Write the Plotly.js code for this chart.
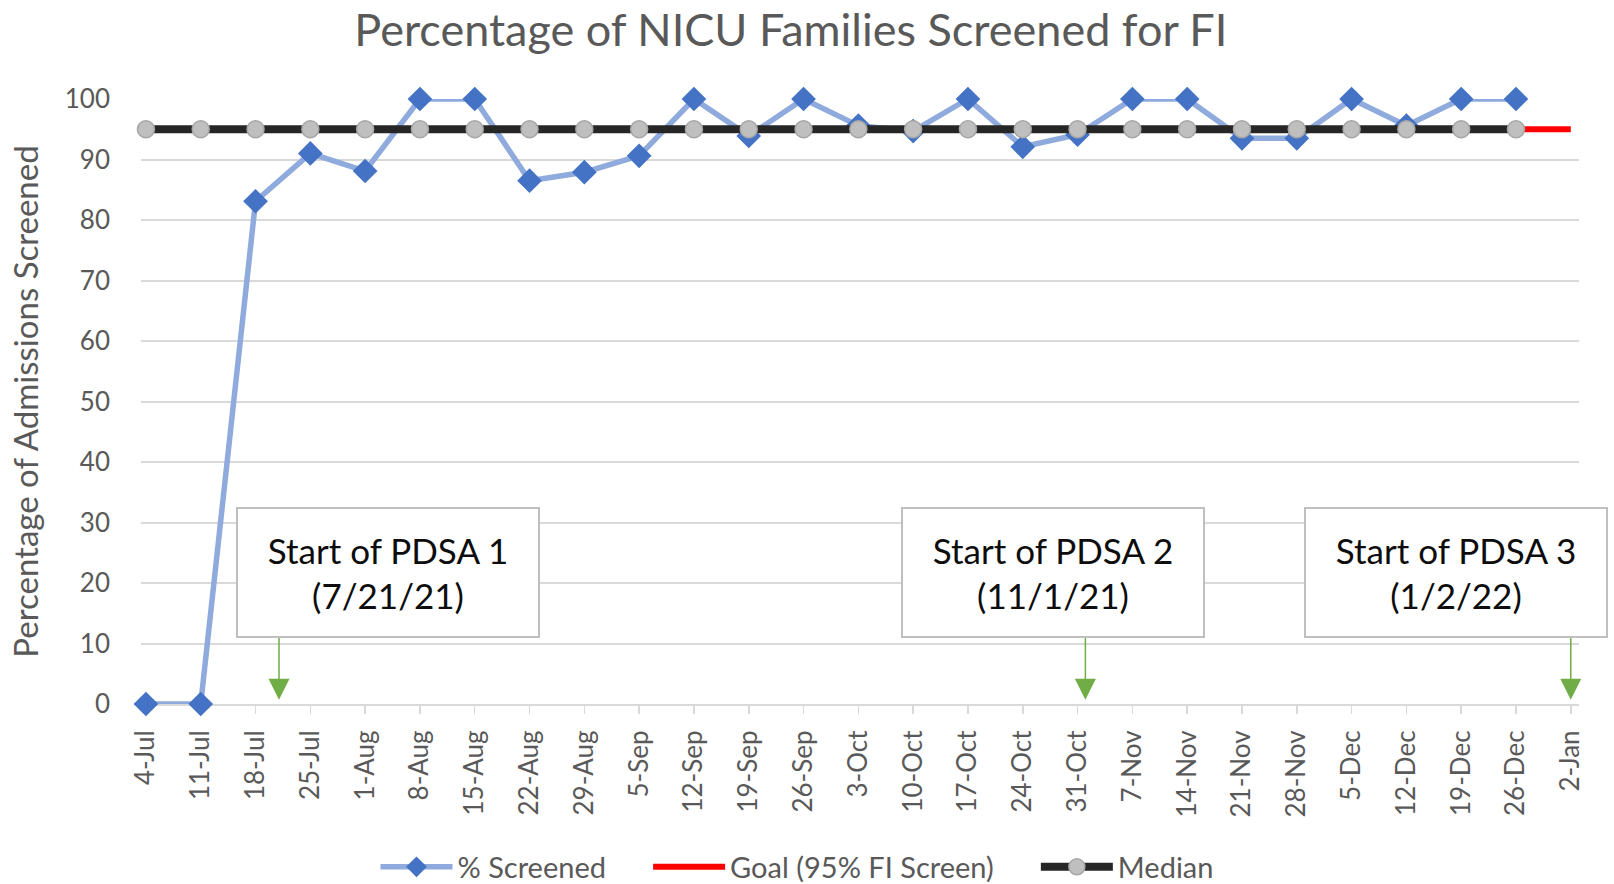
<!DOCTYPE html>
<html>
<head>
<meta charset="utf-8">
<script src="https://cdn.plot.ly/plotly-3.0.1.min.js"></script>
<style>
  html, body { margin: 0; padding: 0; background: #ffffff; }
  #chart { width: 1614px; height: 884px; }
</style>
</head>
<body>
<div id="chart"></div>
<script>
// ---- Data ----
const weeks = ["4-Jul","11-Jul","18-Jul","25-Jul","1-Aug","8-Aug","15-Aug","22-Aug","29-Aug",
  "5-Sep","12-Sep","19-Sep","26-Sep","3-Oct","10-Oct","17-Oct","24-Oct","31-Oct",
  "7-Nov","14-Nov","21-Nov","28-Nov","5-Dec","12-Dec","19-Dec","26-Dec","2-Jan"];

const pctScreened = [0, 0, 83.1, 91.0, 88.1, 100, 100, 86.5, 87.9, 90.6, 100, 93.9, 100,
  95.6, 94.7, 100, 92.1, 94.1, 100, 100, 93.5, 93.5, 100, 95.6, 100, 100];

const goal = [95, 95, 95, 95, 95, 95, 95, 95, 95, 95, 95, 95, 95, 95, 95, 95, 95, 95,
  95, 95, 95, 95, 95, 95, 95, 95, 95];

const median = [95, 95, 95, 95, 95, 95, 95, 95, 95, 95, 95, 95, 95, 95, 95, 95, 95, 95,
  95, 95, 95, 95, 95, 95, 95, 95];

const yTicks = [0, 10, 20, 30, 40, 50, 60, 70, 80, 90, 100];

const seriesNames = ["% Screened", "Goal (95% FI Screen)", "Median"];

// PDSA starts: week label they fall in and days after that week's start
const pdsaLabels = ["Start of PDSA 1<br>(7/21/21)", "Start of PDSA 2<br>(11/1/21)", "Start of PDSA 3<br>(1/2/22)"];
const pdsaWeek = ["18-Jul", "31-Oct", "2-Jan"];
const pdsaDaysAfter = [3, 1, 0];

// ---- Build chart ----
const idx = weeks.map((_, i) => i);
const xs = n => idx.slice(0, n);
const FONT = "Lato, 'Open Sans', sans-serif";
const GREY_TXT = "#595959";
const PAD = "\u00A0\u00A0\u00A0\u00A0\u00A0";

const traces = [
  {
    x: xs(pctScreened.length), y: pctScreened, name: seriesNames[0] + PAD, type: "scatter", mode: "lines+markers",
    line: { color: "#8FAADC", width: 5.5 },
    marker: { symbol: "diamond", size: 19, color: "#4472C4", line: { width: 0 } },
    cliponaxis: false
  },
  {
    x: xs(goal.length), y: goal, name: seriesNames[1] + PAD, type: "scatter", mode: "lines",
    line: { color: "#FF0000", width: 6 },
    cliponaxis: false
  },
  {
    x: xs(median.length), y: median, name: seriesNames[2], type: "scatter", mode: "lines+markers",
    line: { color: "#262626", width: 8 },
    marker: { symbol: "circle", size: 17, color: "#BFBFBF", line: { color: "#A6A6A6", width: 1.5 } },
    cliponaxis: false
  }
];

const L = 141, R = 35, T = 99, B = 180;
const plotW = 1614 - L - R, plotH = 884 - T - B;

const annotations = [];
const boxCenters = [388, 1053, 1456];
pdsaLabels.forEach((txt, i) => {
  const xi = weeks.indexOf(pdsaWeek[i]) + pdsaDaysAfter[i] / 7;
  // arrow
  annotations.push({
    x: xi, y: 0.7, xref: "x", yref: "y", text: "", showarrow: true,
    ax: 0, ay: -66, arrowhead: 2, arrowsize: 2.8, arrowwidth: 1.5, arrowcolor: "#70AD47"
  });
  // box
  annotations.push({
    x: (boxCenters[i] - L) / plotW, y: 1 - (572 - T) / plotH, xref: "paper", yref: "paper",
    xanchor: "center", yanchor: "middle", showarrow: false,
    text: txt, align: "center",
    font: { family: FONT, size: 35, color: "#0D0D0D" },
    bgcolor: "#FFFFFF", bordercolor: "#BFBFBF", borderwidth: 2,
    width: 298, height: 125
  });
});

const layout = {
  width: 1614, height: 884,
  paper_bgcolor: "#FFFFFF", plot_bgcolor: "#FFFFFF",
  margin: { l: L, r: R, t: T, b: B },
  font: { family: FONT, color: GREY_TXT },
  title: {
    text: "Percentage of NICU Families Screened for FI",
    font: { family: FONT, size: 45, color: GREY_TXT },
    xref: "container", x: 0.49, xanchor: "center",
    yref: "container", y: 1 - 30 / 884, yanchor: "middle"
  },
  xaxis: {
    type: "linear", range: [-0.09, 26.15],
    tickmode: "array", tickvals: idx, ticktext: weeks, tickangle: -90,
    tickfont: { family: FONT, size: 26, color: GREY_TXT },
    ticks: "outside", ticklen: 8, tickwidth: 1.5, tickcolor: "#D9D9D9",
    showline: true, linecolor: "#D9D9D9", linewidth: 2, layer: "below traces",
    showgrid: false, zeroline: false, ticklabelstandoff: 6
  },
  yaxis: {
    range: [0, 100], tickmode: "array", tickvals: yTicks,
    tickfont: { family: FONT, size: 26, color: GREY_TXT },
    showgrid: true, gridcolor: "#D9D9D9", gridwidth: 2, layer: "below traces",
    zeroline: false, showline: false, ticks: "", ticklabelstandoff: 30,
    title: { text: "Percentage of Admissions Screened", font: { family: FONT, size: 33, color: GREY_TXT }, standoff: 16 }
  },
  showlegend: true,
  legend: {
    orientation: "h", xref: "container", yref: "container",
    x: 797 / 1614, xanchor: "center", y: 17 / 884, yanchor: "middle",
    font: { family: FONT, size: 29, color: GREY_TXT },
    itemwidth: 72, traceorder: "normal"
  },
  annotations: annotations
};

Plotly.newPlot("chart", traces, layout, { displayModeBar: false, staticPlot: true }).then(gd => {
  // Lengthen legend symbols to match the reference's long line samples
  gd.querySelectorAll(".legend .legendlines path").forEach(p => p.setAttribute("d", "M5,0h72"));
  gd.querySelectorAll(".legend .legendpoints path").forEach(p => p.setAttribute("transform", "translate(41,0)"));
});
</script>
</body>
</html>
